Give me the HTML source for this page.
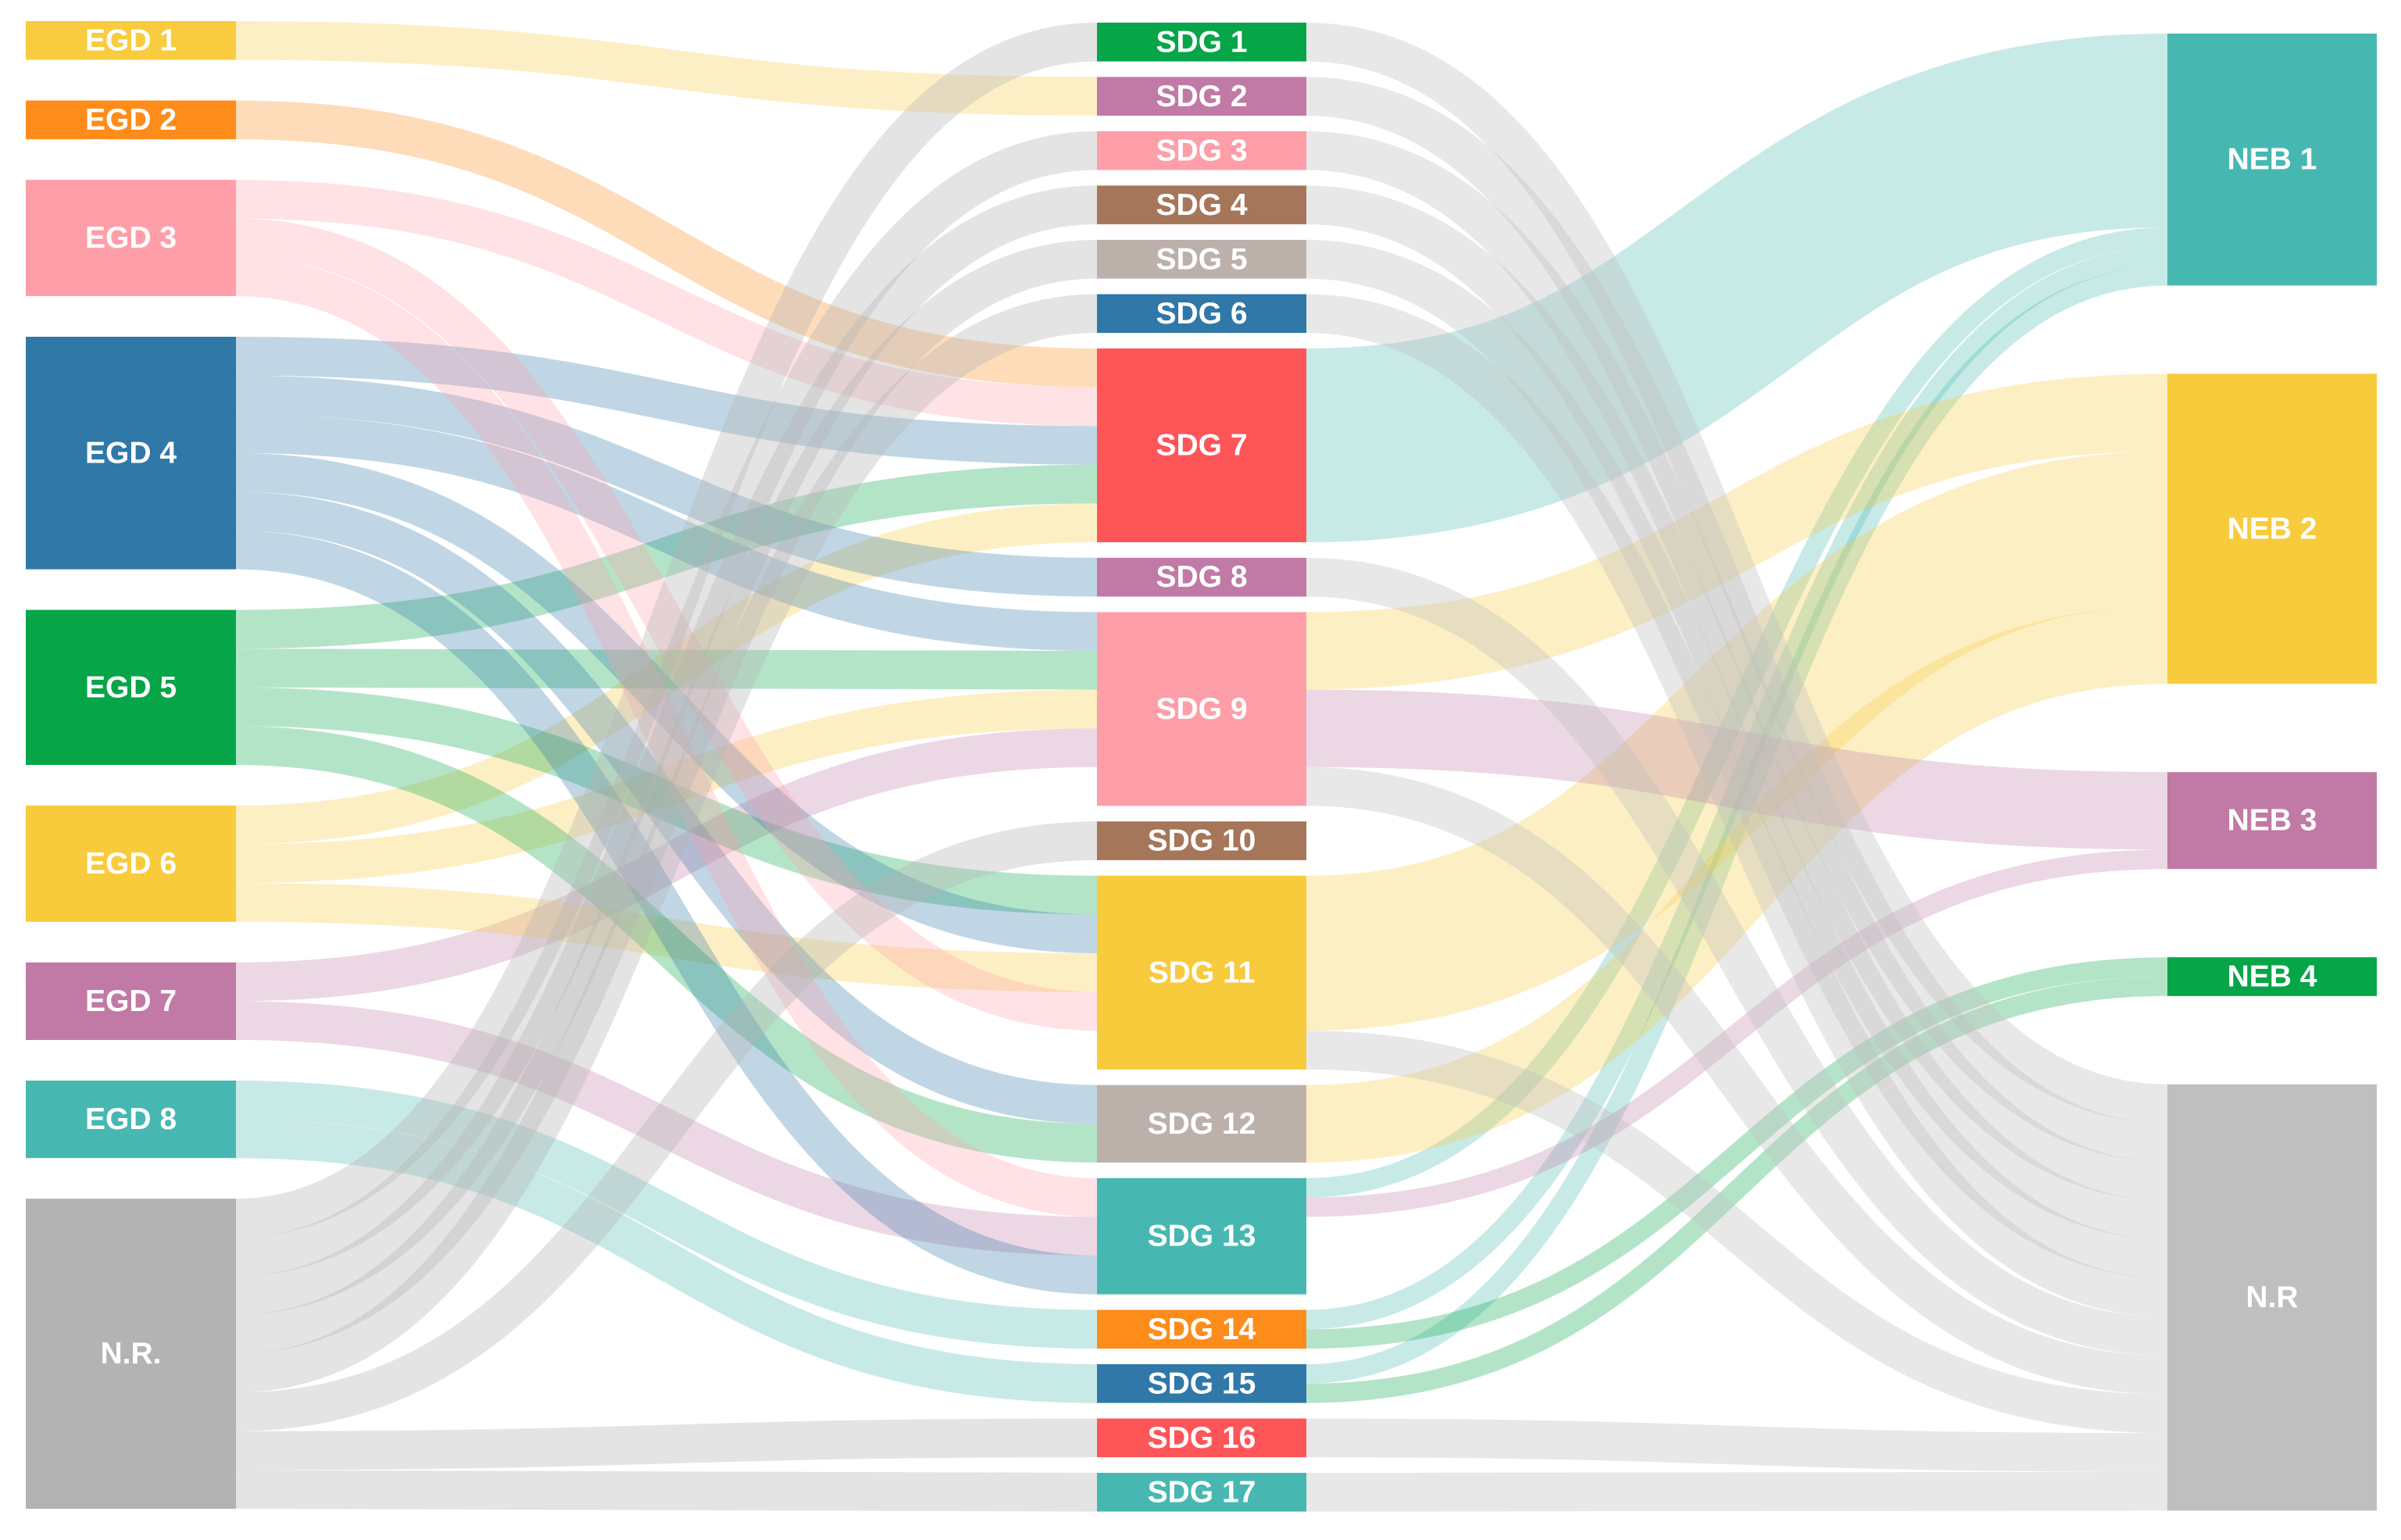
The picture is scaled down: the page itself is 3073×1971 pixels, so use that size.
<!DOCTYPE html>
<html><head><meta charset="utf-8">
<style>
html,body{margin:0;padding:0;background:#fff;}
svg{display:block;}
text{font-family:"Liberation Sans",sans-serif;font-weight:bold;fill:#fff;font-size:39px;}
</style></head>
<body>
<svg id="chart" width="3073" height="1971" viewBox="0 0 3073 1971" xmlns="http://www.w3.org/2000/svg">
<g id="links"></g>
<g id="nodes"></g>
</svg>
<script>
const leftNodes = ["EGD 1","EGD 2","EGD 3","EGD 4","EGD 5","EGD 6","EGD 7","EGD 8","N.R."];
const midNodes = ["SDG 1","SDG 2","SDG 3","SDG 4","SDG 5","SDG 6","SDG 7","SDG 8","SDG 9","SDG 10","SDG 11","SDG 12","SDG 13","SDG 14","SDG 15","SDG 16","SDG 17"];
const rightNodes = ["NEB 1","NEB 2","NEB 3","NEB 4","N.R"];
const leftColors = ["#f9cb3e","#fd8c1b","#fe9ea8","#2f78a8","#05a548","#f8cb3c","#c07aa5","#47b8b1","#b3b3b3"];
const midColors = ["#05a548","#c07aa5","#fe9ea8","#a6765a","#bcb0ab","#2f78a8","#fe5559","#c07aa5","#fe9ea8","#a6765a","#f8cb3c","#bcb0ab","#47b8b1","#fd8c1b","#2f78a8","#fe5559","#47b8b1"];
const rightColors = ["#47b8b1","#f8cb3c","#c07aa5","#05a548","#bfbfbf"];
// left -> middle links: [source, target, value], listed in stacking order at target
const linksA = [
["EGD 1","SDG 2",1],["EGD 2","SDG 7",1],["EGD 3","SDG 7",1],["EGD 4","SDG 7",1],["EGD 5","SDG 7",1],["EGD 6","SDG 7",1],
["EGD 4","SDG 8",1],["EGD 4","SDG 9",1],["EGD 5","SDG 9",1],["EGD 6","SDG 9",1],["EGD 7","SDG 9",1],
["EGD 5","SDG 11",1],["EGD 4","SDG 11",1],["EGD 6","SDG 11",1],["EGD 3","SDG 11",1],
["EGD 4","SDG 12",1],["EGD 5","SDG 12",1],
["EGD 3","SDG 13",1],["EGD 7","SDG 13",1],["EGD 4","SDG 13",1],
["EGD 8","SDG 14",1],["EGD 8","SDG 15",1],
["N.R.","SDG 1",1],["N.R.","SDG 3",1],["N.R.","SDG 4",1],["N.R.","SDG 5",1],["N.R.","SDG 6",1],["N.R.","SDG 10",1],["N.R.","SDG 16",1],["N.R.","SDG 17",1]
];
// middle -> right links
const linksB = [
["SDG 7","NEB 1",5],["SDG 13","NEB 1",0.5],["SDG 14","NEB 1",0.5],["SDG 15","NEB 1",0.5],
["SDG 9","NEB 2",2],["SDG 11","NEB 2",4],["SDG 12","NEB 2",2],
["SDG 9","NEB 3",2],["SDG 13","NEB 3",0.5],
["SDG 14","NEB 4",0.5],["SDG 15","NEB 4",0.5],
["SDG 1","N.R",1],["SDG 2","N.R",1],["SDG 3","N.R",1],["SDG 4","N.R",1],["SDG 5","N.R",1],["SDG 6","N.R",1],["SDG 8","N.R",1],["SDG 9","N.R",1],["SDG 11","N.R",1],["SDG 16","N.R",1],["SDG 17","N.R",1]
];

const K = 49.6;
const NS = "http://www.w3.org/2000/svg";
const cols = [
 {names:leftNodes, colors:leftColors, x0:33, x1:302, top:27, gap:52},
 {names:midNodes, colors:midColors, x0:1404, x1:1672, top:29, gap:19.9},
 {names:rightNodes, colors:rightColors, x0:2774, x1:3042, top:43, gap:113}
];
const nodes = {};
cols.forEach((c,ci)=>c.names.forEach((n,i)=>{nodes[ci+":"+n]={name:n,col:ci,idx:i,color:c.colors[i],inV:0,outV:0,x0:c.x0,x1:c.x1};}));
function key(col,n){return col+":"+n;}
const links=[];
linksA.forEach(l=>links.push({s:nodes[key(0,l[0])],t:nodes[key(1,l[1])],v:l[2],byTarget:false}));
linksB.forEach(l=>links.push({s:nodes[key(1,l[0])],t:nodes[key(2,l[1])],v:l[2],byTarget:true}));
links.forEach(l=>{l.s.outV+=l.v;l.t.inV+=l.v;});
cols.forEach((c,ci)=>{let y=c.top;c.names.forEach(n=>{const nd=nodes[key(ci,n)];nd.h=Math.max(nd.inV,nd.outV)*K;nd.y0=y;nd.y1=y+nd.h;y=nd.y1+c.gap;});});
const tOff={};
links.forEach(l=>{const k=l.t.col+":"+l.t.name;tOff[k]=tOff[k]||0;l.ty=l.t.y0+tOff[k]+l.v*K/2;tOff[k]+=l.v*K;});
const bySrc={};
links.forEach(l=>{const k=l.s.col+":"+l.s.name;(bySrc[k]=bySrc[k]||[]).push(l);});
Object.values(bySrc).forEach(arr=>{arr.sort((a,b)=>a.t.idx-b.t.idx);let o=0;arr.forEach(l=>{l.sy=l.s.y0+o+l.v*K/2;o+=l.v*K;});});
const gL=document.getElementById('links');
links.forEach(l=>{
 const p=document.createElementNS(NS,'path');
 const x0=l.s.x1,x1=l.t.x0,xm=(x0+x1)/2;
 p.setAttribute('d',`M${x0},${l.sy}C${xm},${l.sy} ${xm},${l.ty} ${x1},${l.ty}`);
 p.setAttribute('fill','none');
 const col=l.byTarget?l.t.color:l.s.color;
 p.setAttribute('stroke',col);
 p.setAttribute('stroke-opacity',col==="#b3b3b3"||col==="#bfbfbf"?0.36:0.3);
 p.setAttribute('stroke-width',l.v*K);
 
 
 gL.appendChild(p);
});
const gN=document.getElementById('nodes');
Object.values(nodes).forEach(nd=>{
 const g=document.createElementNS(NS,'g');
 
 
 const r=document.createElementNS(NS,'rect');
 r.setAttribute('x',nd.x0);r.setAttribute('y',nd.y0);r.setAttribute('width',nd.x1-nd.x0);r.setAttribute('height',nd.h);r.setAttribute('fill',nd.color);
 
 
 const t=document.createElementNS(NS,'text');
 t.setAttribute('x',(nd.x0+nd.x1)/2);t.setAttribute('y',(nd.y0+nd.y1)/2);t.setAttribute('text-anchor','middle');t.setAttribute('dominant-baseline','central');
 t.textContent=nd.name;
 
 
 g.appendChild(r);g.appendChild(t);gN.appendChild(g);
});
</script>
</body></html>
